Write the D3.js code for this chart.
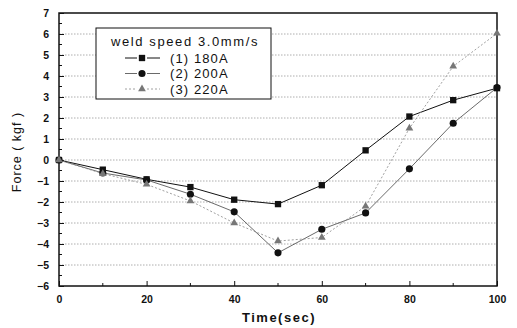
<!DOCTYPE html>
<html>
<head>
<meta charset="utf-8">
<script src="https://cdn.jsdelivr.net/npm/d3@7"></script>
<style>
  body { margin: 0; background: #fff; }
  text { font-family: "Liberation Sans", Arial, sans-serif; fill: #111; }
</style>
</head>
<body>
<svg id="svg" width="517" height="328"></svg>
<script>
// 数据
const times = [0, 10, 20, 30, 40, 50, 60, 70, 80, 90, 100];
const force180 = [0, -0.46, -0.92, -1.29, -1.89, -2.1, -1.2, 0.46, 2.07, 2.85, 3.42];
const force200 = [0, -0.62, -0.95, -1.63, -2.47, -4.42, -3.3, -2.52, -0.42, 1.75, 3.45];
const force220 = [0, -0.65, -1.16, -1.95, -3.0, -3.86, -3.69, -2.2, 1.51, 4.46, 6.03];
const xTicks = [0, 20, 40, 60, 80, 100];
const yTicks = [-6, -5, -4, -3, -2, -1, 0, 1, 2, 3, 4, 5, 6, 7];
const legendTitle = "weld speed 3.0mm/s";
const seriesNames = ["(1) 180A", "(2) 200A", "(3) 220A"];

const svg = d3.select("#svg");
const mLeft = 59, mRight = 497, mTop = 13, mBottom = 286;

const x = d3.scaleLinear().domain([0, 100]).range([mLeft, mRight]);
const y = d3.scaleLinear().domain([-6, 7]).range([mBottom, mTop]);

// 网格（水平虚线）
yTicks.filter(d => d > -6 && d < 7).forEach(d => {
  svg.append("line")
    .attr("x1", mLeft).attr("x2", mRight)
    .attr("y1", y(d)).attr("y2", y(d))
    .attr("stroke", "#999").attr("stroke-width", 0.8)
    .attr("stroke-dasharray", "1.5,1.5");
});

// 坐标轴
const xAxis = d3.axisBottom(x).tickValues(xTicks).tickSize(-5).tickPadding(10).tickFormat(d3.format("d"));
const yAxis = d3.axisLeft(y).tickValues(yTicks).tickSize(-5).tickPadding(10).tickFormat(d3.format("d"));
const gx = svg.append("g").attr("transform", `translate(0,${mBottom})`).call(xAxis);
const gy = svg.append("g").attr("transform", `translate(${mLeft},0)`).call(yAxis);
[gx, gy].forEach(g => {
  g.select(".domain").remove();
  g.selectAll("line").attr("stroke", "#111").attr("stroke-width", 1);
  g.selectAll("text").style("font-size", "10.5px").style("font-weight", "bold").attr("fill", "#111");
});
// 次刻度
d3.range(10, 100, 20).forEach(d => {
  svg.append("line").attr("x1", x(d)).attr("x2", x(d)).attr("y1", mBottom).attr("y2", mBottom - 3)
    .attr("stroke", "#111");
});
d3.range(-5.5, 7, 1).forEach(d => {
  svg.append("line").attr("x1", mLeft).attr("x2", mLeft + 3).attr("y1", y(d)).attr("y2", y(d))
    .attr("stroke", "#111");
});

// 边框
svg.append("rect")
  .attr("x", mLeft).attr("y", mTop).attr("width", mRight - mLeft).attr("height", mBottom - mTop)
  .attr("fill", "none").attr("stroke", "#111").attr("stroke-width", 1.5);

// 轴标题
svg.append("text")
  .attr("x", 279).attr("y", 322)
  .attr("text-anchor", "middle")
  .style("font-size", "13px").style("font-weight", "bold").style("letter-spacing", "1.5px")
  .text("Time(sec)");
svg.append("text")
  .attr("transform", `translate(21,152) rotate(-90)`)
  .attr("text-anchor", "middle")
  .style("font-size", "12.5px").style("letter-spacing", "1px")
  .text("Force ( kgf )");

// 曲线
const series = [
  { vals: force180, color: "#111", width: 1, dash: null, shape: d3.symbolSquare, size: 40 },
  { vals: force200, color: "#444", width: 0.8, dash: null, shape: d3.symbolCircle, size: 40 },
  { vals: force220, color: "#888", width: 0.8, dash: "2,2", shape: d3.symbolTriangle, size: 26 }
];
const line = d3.line().x((d, i) => x(times[i])).y(d => y(d));

series.forEach(s => {
  svg.append("path")
    .attr("d", line(s.vals))
    .attr("fill", "none")
    .attr("stroke", s.color)
    .attr("stroke-width", s.width)
    .attr("stroke-dasharray", s.dash);
});
series.forEach(s => {
  svg.append("g").selectAll("path")
    .data(s.vals)
    .join("path")
    .attr("transform", (d, i) => `translate(${x(times[i])},${y(d)})`)
    .attr("d", d3.symbol().type(s.shape).size(s.size))
    .attr("fill", s.shape === d3.symbolTriangle ? "#777" : "#111");
});

// 图例
const lg = svg.append("g");
lg.append("rect")
  .attr("x", 96).attr("y", 28).attr("width", 175).attr("height", 71)
  .attr("fill", "#fff").attr("stroke", "#111").attr("stroke-width", 1);
lg.append("text")
  .attr("x", 111).attr("y", 46)
  .style("font-size", "13px").style("letter-spacing", "1.6px")
  .text(legendTitle);
series.forEach((s, i) => {
  const cy = 58 + i * 15.5;
  // 标记两侧的短线段
  [[125, 137], [147, 160]].forEach(([a, b]) => {
    lg.append("line")
      .attr("x1", a).attr("x2", b).attr("y1", cy).attr("y2", cy)
      .attr("stroke", s.color).attr("stroke-width", s.width)
      .attr("stroke-dasharray", s.dash);
  });
  lg.append("path")
    .attr("transform", `translate(142,${cy})`)
    .attr("d", d3.symbol().type(s.shape).size(s.size))
    .attr("fill", s.shape === d3.symbolTriangle ? "#777" : "#111");
  lg.append("text")
    .attr("x", 170).attr("y", cy + 4.5)
    .style("font-size", "13px").style("letter-spacing", "1.1px")
    .text(seriesNames[i]);
});
</script>
</body>
</html>
